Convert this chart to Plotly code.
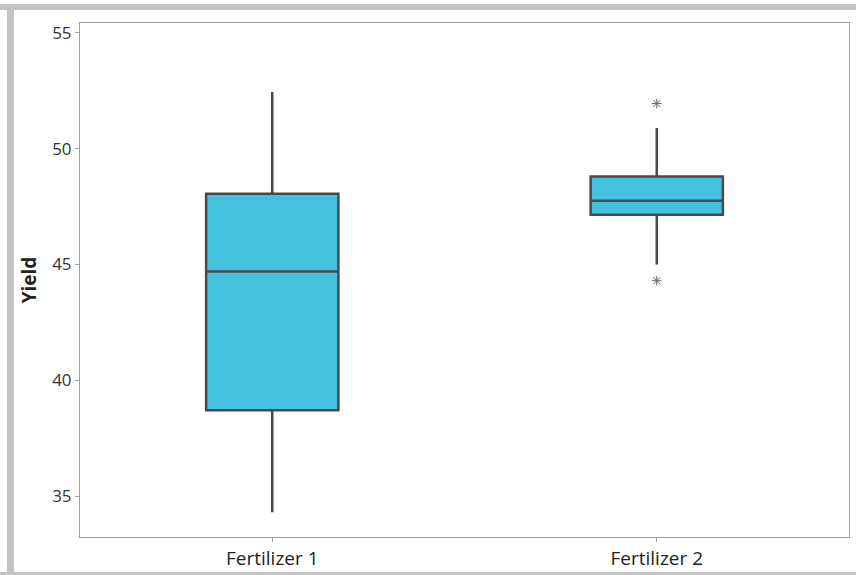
import plotly.graph_objects as go

categories = ["Fertilizer 1", "Fertilizer 2"]
q1 = [38.7, 47.15]
median = [44.7, 47.75]
q3 = [48.05, 48.8]
lower_whisker = [34.3, 45.0]
upper_whisker = [52.45, 50.9]
outlier_cat = ["Fertilizer 2", "Fertilizer 2"]
outlier_val = [51.95, 44.3]
y_ticks = [35, 40, 45, 50, 55]

W, H = 856, 575
ML, MR, MT, MB = 80, 7, 23, 38
PW, PH = W - ML - MR, H - MT - MB

def px(x):
    return (x - ML) / PW

def py(r):
    return (H - MB - r) / PH

fig = go.Figure()
fig.add_trace(go.Box(
    x=categories, q1=q1, median=median, q3=q3,
    lowerfence=lower_whisker, upperfence=upper_whisker,
    fillcolor="#45c1e0",
    line=dict(color="#4a4a4a", width=2.5),
    whiskerwidth=0,
    boxpoints=False,
    showlegend=False,
    hoverinfo="skip",
))
fig.add_trace(go.Scatter(
    x=outlier_cat, y=outlier_val, mode="markers",
    marker=dict(symbol="asterisk-open", size=8, color="#666666",
                line=dict(color="#666666", width=1)),
    showlegend=False, hoverinfo="skip",
))

gray = "#c3c3c3"
shapes = [
    dict(type="rect", xref="paper", yref="paper", x0=px(0), x1=px(W), y0=py(10), y1=py(4),
         fillcolor=gray, line=dict(width=0), layer="below"),
    dict(type="rect", xref="paper", yref="paper", x0=px(7), x1=px(14), y0=py(575), y1=py(4),
         fillcolor=gray, line=dict(width=0), layer="below"),
    dict(type="rect", xref="paper", yref="paper", x0=px(0), x1=px(W), y0=py(575), y1=py(572),
         fillcolor=gray, line=dict(width=0), layer="below"),
]

fig.update_layout(
    width=W, height=H,
    margin=dict(l=ML, r=MR, t=MT, b=MB),
    paper_bgcolor="white", plot_bgcolor="white",
    boxgap=0.656, boxgroupgap=0,
    shapes=shapes,
    font=dict(family="Open Sans, DejaVu Sans, sans-serif", color="#333333"),
    xaxis=dict(
        type="category", range=[-0.5, 1.5], automargin=False,
        showline=True, linecolor="#a0a0a0", linewidth=1, mirror=True,
        ticks="outside", ticklen=4, tickcolor="#a0a0a0",
        tickfont=dict(size=19, color="#222222"),
        showgrid=False, zeroline=False,
    ),
    yaxis=dict(
        range=[33.23, 55.43], automargin=False,
        tickvals=y_ticks,
        showline=True, linecolor="#a0a0a0", linewidth=1, mirror=True,
        ticks="outside", ticklen=4, tickcolor="#a0a0a0",
        tickfont=dict(size=17, color="#333333"),
        showgrid=False, zeroline=False,
        title=dict(text="<b>Yield</b>", font=dict(size=19, color="#222222"), standoff=10),
    ),
)

fig.write_html("out.html", config={"displayModeBar": False},
               post_script="document.body.style.margin='0';document.body.style.overflow='hidden';")
